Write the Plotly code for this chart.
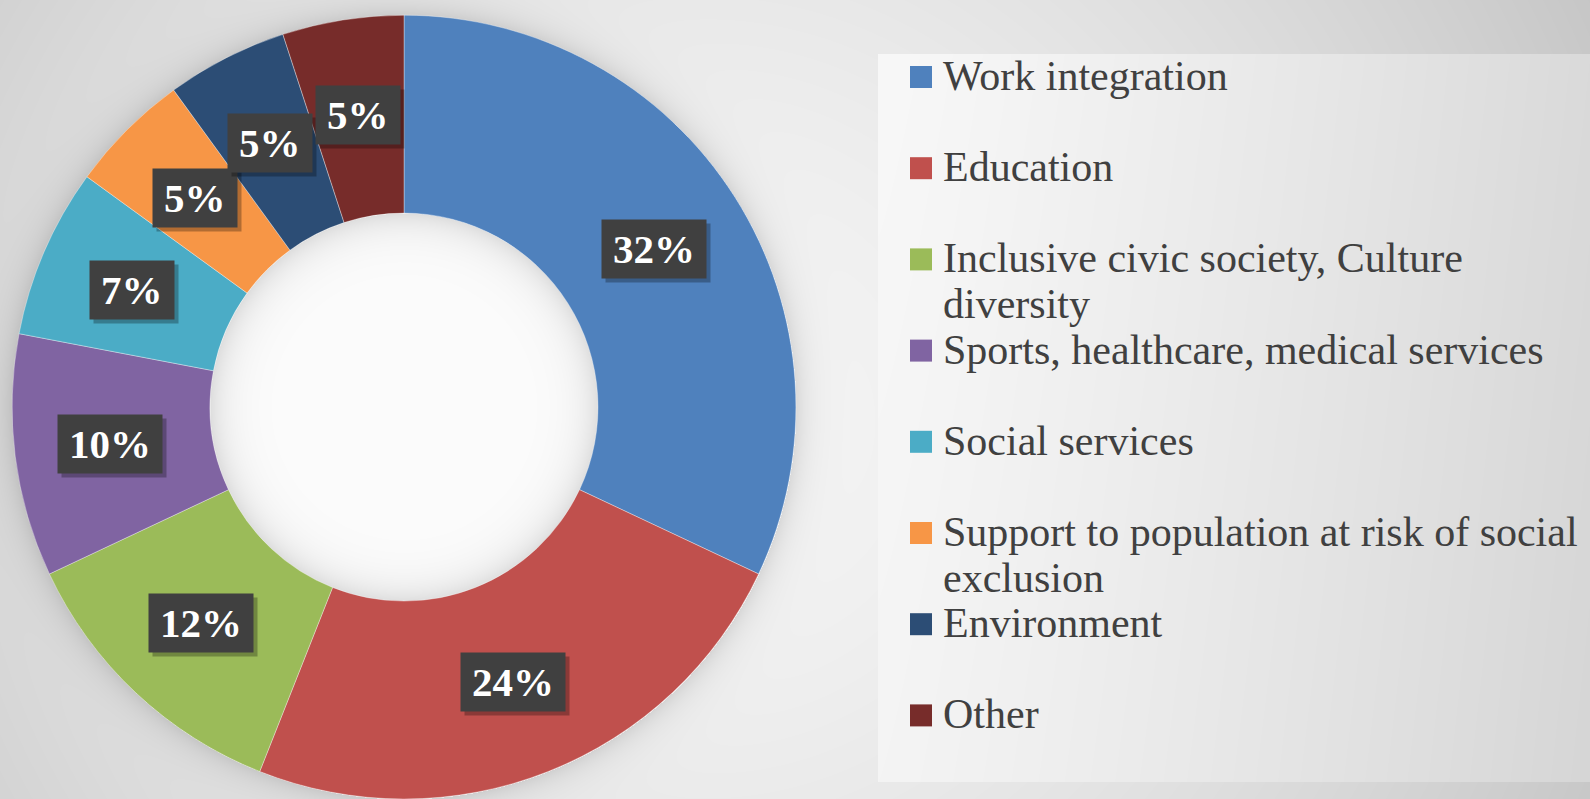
import base64
import struct
import zlib

import numpy as np
import plotly.graph_objects as go

# ---------------- data ----------------
categories = [
    "Work integration",
    "Education",
    "Inclusive civic society, Culture\ndiversity",
    "Sports, healthcare, medical services",
    "Social services",
    "Support to population at risk of social\nexclusion",
    "Environment",
    "Other",
]
shares = [32, 24, 12, 10, 7, 5, 5, 5]
colors = ["#4F81BD", "#C0504D", "#9BBB59", "#8064A2",
          "#4BACC6", "#F79646", "#2C4D75", "#772C2A"]

# ---------------- geometry / style ----------------
W, H = 1590, 799
dom_x = [12 / W, 796 / W]
dom_y = [0.0, 0.981]
HOLE = 0.495
cx_px = (dom_x[0] + dom_x[1]) / 2 * W
cy_px = (1 - (dom_y[0] + dom_y[1]) / 2) * H
R = min((dom_x[1] - dom_x[0]) * W, (dom_y[1] - dom_y[0]) * H) / 2

SERIF = "Liberation Serif, Times New Roman, serif"
LABEL_SIZE = 41


# ---------------- background gradient image ----------------
def png_gray(a):
    h, w = a.shape
    raw = np.hstack([np.zeros((h, 1), np.uint8), a]).tobytes()

    def chunk(t, d):
        c = struct.pack(">I", len(d)) + t + d
        return c + struct.pack(">I", zlib.crc32(t + d) & 0xFFFFFFFF)

    return (b"\x89PNG\r\n\x1a\n"
            + chunk(b"IHDR", struct.pack(">IIBBBBB", w, h, 8, 0, 0, 0, 0))
            + chunk(b"IDAT", zlib.compress(raw, 9))
            + chunk(b"IEND", b""))


yy, xx = np.mgrid[0:H, 0:W].astype(float)
d = np.hypot(xx - 700, yy - 420)
bg = 245 - 40 * (d / 900) ** 1.6
dc = np.hypot(xx - cx_px, yy - cy_px)
s_out = dc - R
bg = np.where(s_out > 0, bg - 26 * np.exp(-np.clip(s_out, 0, None) / 14), bg)
s_in = R * HOLE - dc
bg = np.where(s_in > 0, 252 - 30 * np.exp(-np.clip(s_in, 0, None) / 18), bg)
panel = (xx >= 878) & (yy >= 54) & (yy <= 781)
pv = 248 - 30 * np.clip((xx - 878) / 712, 0, 1) ** 1.2 - 4 * np.clip((yy - 54) / 727, 0, 1)
bg = np.where(panel, pv, bg)
img = np.clip(bg, 0, 255).astype(np.uint8)
bg_uri = "data:image/png;base64," + base64.b64encode(png_gray(img)).decode()

# ---------------- figure ----------------
fig = go.Figure(go.Pie(
    labels=[c.replace("\n", " ") for c in categories],
    values=shares,
    marker=dict(colors=colors, line=dict(color="rgba(255,255,255,0.35)", width=1)),
    hole=HOLE,
    sort=False,
    direction="clockwise",
    rotation=0,
    textinfo="none",
    showlegend=False,
    domain=dict(x=dom_x, y=dom_y),
))

annotations = []
shapes = []

# percentage labels with dark boxes (plus a soft drop shadow box)
total = float(sum(shares))
cx_p = (dom_x[0] + dom_x[1]) / 2
cy_p = (dom_y[0] + dom_y[1]) / 2
r_lab = 0.755 * R
cum = 0.0
for v in shares:
    theta = 2 * np.pi * (cum + v / 2) / total
    cum += v
    xp = cx_p + r_lab * np.sin(theta) / W
    yp = cy_p + r_lab * np.cos(theta) / H
    txt = f"{v}%"
    box_w = (0.5 * len(str(v)) + 1.0) * LABEL_SIZE + 2
    common = dict(x=xp, y=yp, xref="paper", yref="paper", showarrow=False,
                  xanchor="center", yanchor="middle", borderpad=10,
                  width=box_w, height=38)
    annotations.append(dict(text=" ", font=dict(family=SERIF, size=LABEL_SIZE),
                            bgcolor="rgba(0,0,0,0.28)", xshift=4, yshift=-4, **common))
    annotations.append(dict(text=f"<b>{txt}</b>",
                            font=dict(family=SERIF, size=LABEL_SIZE, color="#ffffff"),
                            bgcolor="#404040", **common))

# legend (right panel)
LEG_X_MARK = 910
LEG_X_TEXT = 941
LEG_Y0 = 76
ITEM_STEP = 91.2
LINE_STEP = 45.6
for i, (cat, col) in enumerate(zip(categories, colors)):
    y0 = LEG_Y0 + ITEM_STEP * i
    for j, line in enumerate(cat.split("\n")):
        annotations.append(dict(
            text=line, x=LEG_X_TEXT / W, y=1 - (y0 + j * LINE_STEP) / H,
            xref="paper", yref="paper", showarrow=False,
            xanchor="left", yanchor="middle",
            font=dict(family=SERIF, size=42, color="#404040")))
    ym = y0 + 1
    shapes.append(dict(type="rect", xref="paper", yref="paper",
                       x0=LEG_X_MARK / W, x1=(LEG_X_MARK + 22) / W,
                       y0=1 - (ym + 11) / H, y1=1 - (ym - 11) / H,
                       fillcolor=col, line=dict(width=0)))

fig.update_layout(
    width=W, height=H,
    margin=dict(l=0, r=0, t=0, b=0),
    paper_bgcolor="#e6e6e6",
    plot_bgcolor="rgba(0,0,0,0)",
    images=[dict(source=bg_uri, xref="paper", yref="paper", x=0, y=1,
                 sizex=1, sizey=1, xanchor="left", yanchor="top",
                 sizing="stretch", layer="below")],
    annotations=annotations,
    shapes=shapes,
)

fig.write_html(
    "out.html",
    config={"displayModeBar": False},
    post_script="document.body.style.margin='0px';document.body.style.overflow='hidden';",
)
